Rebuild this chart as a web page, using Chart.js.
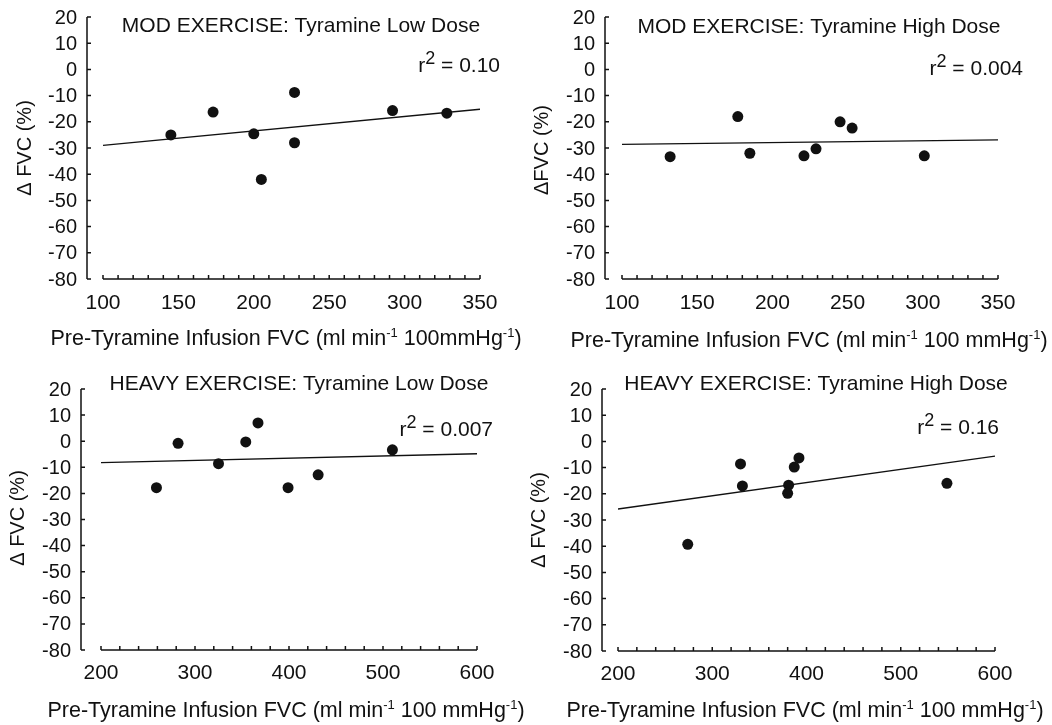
<!DOCTYPE html>
<html lang="en">
<head>
<meta charset="UTF-8">
<title>Tyramine FVC scatter</title>
<script src="https://cdn.jsdelivr.net/npm/chart.js"></script>
<style>
    body { margin: 0; background: #fff; }
    #wrap { position: relative; width: 1052px; height: 725px; }
    .panel { position: absolute; }
</style>
</head>
<body>
<div id="wrap">
    <canvas class="panel" id="p1" width="526" height="360" style="left:0;top:0"></canvas>
    <canvas class="panel" id="p2" width="526" height="360" style="left:526px;top:0"></canvas>
    <canvas class="panel" id="p3" width="526" height="365" style="left:0;top:360px"></canvas>
    <canvas class="panel" id="p4" width="526" height="365" style="left:526px;top:360px"></canvas>
</div>
<script>
// values
const yTicks = [20, 10, 0, -10, -20, -30, -40, -50, -60, -70, -80];
const modTicks = [100, 150, 200, 250, 300, 350];
const heavyTicks = [200, 300, 400, 500, 600];

const modLowX = [145, 173, 200, 205, 227, 227, 292, 328];
const modLowY = [-25, -16.3, -24.6, -42, -8.8, -28, -15.7, -16.7];
const modLowFit = [-29, -15.2];

const modHighX = [132, 177, 185, 221, 229, 245, 253, 301];
const modHighY = [-33.3, -18, -32, -33, -30.3, -20, -22.4, -33];
const modHighFit = [-28.6, -26.9];

const heavyLowX = [259, 282, 325, 354, 367, 399, 431, 510];
const heavyLowY = [-17.8, -0.8, -8.6, -0.3, 7, -17.8, -12.9, -3.3];
const heavyLowFit = [-8.2, -4.8];

const heavyHighX = [274, 330, 332, 381, 380, 387, 392, 549];
const heavyHighY = [-39.3, -8.6, -17, -16.7, -19.8, -9.8, -6.3, -16];
const heavyHighFit = [-25.8, -5.6];

const titles = [
    'MOD EXERCISE: Tyramine Low Dose',
    'MOD EXERCISE: Tyramine High Dose',
    'HEAVY EXERCISE: Tyramine Low Dose',
    'HEAVY EXERCISE: Tyramine High Dose'
];
const rSquared = ['0.10', '0.004', '0.007', '0.16'];

const FONT = '"Liberation Sans", Arial, Helvetica, sans-serif';
const INK = '#111';

function drawRich(ctx, parts, x, y, align) {
    // parts: [text, size, raise]
    let w = 0;
    parts.forEach(p => { ctx.font = p[1] + 'px ' + FONT; w += ctx.measureText(p[0]).width; });
    let cx = align === 'right' ? x - w : align === 'center' ? x - w / 2 : x;
    ctx.textAlign = 'left';
    ctx.textBaseline = 'alphabetic';
    parts.forEach(p => {
        ctx.font = p[1] + 'px ' + FONT;
        ctx.fillText(p[0], cx, y - (p[2] || 0));
        cx += ctx.measureText(p[0]).width;
    });
}

function makeDecor(cfg) {
    return {
        id: 'decor',
        afterDraw(chart) {
            const ctx = chart.ctx;
            const xs = chart.scales.x, ys = chart.scales.y;
            const top = ys.getPixelForValue(20), bot = ys.getPixelForValue(-80);
            ctx.save();
            ctx.strokeStyle = INK;
            ctx.fillStyle = INK;
            ctx.lineWidth = 1.5;

            // y axis, detached from the x axis
            const ax = cfg.yAxisX;
            ctx.beginPath();
            ctx.moveTo(ax, top);
            ctx.lineTo(ax, bot);
            yTicks.forEach(v => {
                const py = ys.getPixelForValue(v);
                ctx.moveTo(ax, py);
                ctx.lineTo(ax + 4, py);
            });
            ctx.stroke();
            ctx.font = '20px ' + FONT;
            ctx.textAlign = 'right';
            ctx.textBaseline = 'middle';
            yTicks.forEach(v => ctx.fillText(String(v), ax - 10, ys.getPixelForValue(v) + 1));

            // x axis with inward ticks
            ctx.beginPath();
            ctx.moveTo(xs.getPixelForValue(xs.min), bot);
            ctx.lineTo(xs.getPixelForValue(xs.max), bot);
            for (let v = xs.min; v <= xs.max; v += cfg.minor) {
                const px = xs.getPixelForValue(v);
                ctx.moveTo(px, bot);
                ctx.lineTo(px, bot - 4);
            }
            ctx.stroke();
            ctx.font = '21px ' + FONT;
            ctx.textAlign = 'center';
            cfg.ticks.forEach(v => ctx.fillText(String(v), xs.getPixelForValue(v), bot + cfg.tickGap));

            // title and r^2
            ctx.textBaseline = 'middle';
            ctx.font = '21px ' + FONT;
            ctx.fillText(cfg.title, cfg.titleX, cfg.titleY);
            drawRich(ctx, [['r', 21, 0], ['2', 18, 8], [' = ' + cfg.r2, 21, 0]], cfg.rX, cfg.rY, 'right');

            // axis titles
            drawRich(ctx, [['Pre-Tyramine Infusion FVC (ml min', 21.5, 0], ['-1', 13, 8],
                [cfg.mmHg, 21.5, 0], ['-1', 13, 8], [')', 21.5, 0]], cfg.xtX, cfg.xtY, 'center');
            ctx.save();
            ctx.translate(cfg.ytX, cfg.ytY);
            ctx.rotate(-Math.PI / 2);
            ctx.textAlign = 'center';
            ctx.textBaseline = 'middle';
            ctx.font = '20px ' + FONT;
            ctx.fillText(cfg.yTitle, 0, 0);
            ctx.restore();
            ctx.restore();
        }
    };
}

function makePanel(id, xs, ys, fit, xMin, xMax, pad, cfg) {
    const pts = xs.map((x, i) => ({ x: x, y: ys[i] }));
    const line = [{ x: xMin, y: fit[0] }, { x: xMax, y: fit[1] }];
    new Chart(document.getElementById(id), {
        type: 'scatter',
        data: {
            datasets: [
                { data: pts, backgroundColor: INK, borderColor: INK, pointRadius: 5.5, pointBorderWidth: 0 },
                { data: line, showLine: true, borderColor: INK, borderWidth: 1.4, pointRadius: 0, fill: false }
            ]
        },
        options: {
            responsive: false,
            animation: false,
            events: [],
            layout: { padding: pad },
            plugins: { legend: { display: false }, tooltip: { enabled: false } },
            scales: {
                x: { type: 'linear', min: xMin, max: xMax, display: false },
                y: { type: 'linear', min: -80, max: 20, display: false }
            }
        },
        plugins: [makeDecor(cfg)]
    });
}

makePanel('p1', modLowX, modLowY, modLowFit, 100, 350,
    { left: 103, right: 46, top: 17, bottom: 81 },
    { yAxisX: 87, minor: 10, ticks: modTicks, tickGap: 24, title: titles[0], titleX: 301, titleY: 26,
      r2: rSquared[0], rX: 500, rY: 72, mmHg: ' 100mmHg', xtX: 286, xtY: 345, ytX: 25, ytY: 148,
      yTitle: '\u0394 FVC (%)' });

makePanel('p2', modHighX, modHighY, modHighFit, 100, 350,
    { left: 96, right: 54, top: 17, bottom: 81 },
    { yAxisX: 79, minor: 10, ticks: modTicks, tickGap: 24, title: titles[1], titleX: 293, titleY: 27,
      r2: rSquared[1], rX: 497, rY: 75, mmHg: ' 100 mmHg', xtX: 283, xtY: 347, ytX: 16, ytY: 150,
      yTitle: '\u0394FVC (%)' });

makePanel('p3', heavyLowX, heavyLowY, heavyLowFit, 200, 600,
    { left: 101, right: 49, top: 29, bottom: 75 },
    { yAxisX: 81, minor: 20, ticks: heavyTicks, tickGap: 23, title: titles[2], titleX: 299, titleY: 24,
      r2: rSquared[2], rX: 493, rY: 76, mmHg: ' 100 mmHg', xtX: 286, xtY: 357, ytX: 18, ytY: 158,
      yTitle: '\u0394 FVC (%)' });

makePanel('p4', heavyHighX, heavyHighY, heavyHighFit, 200, 600,
    { left: 92, right: 57, top: 29, bottom: 74 },
    { yAxisX: 76, minor: 20, ticks: heavyTicks, tickGap: 23, title: titles[3], titleX: 290, titleY: 24,
      r2: rSquared[3], rX: 473, rY: 74, mmHg: ' 100 mmHg', xtX: 279, xtY: 357, ytX: 13, ytY: 160,
      yTitle: '\u0394 FVC (%)' });
</script>
</body>
</html>
